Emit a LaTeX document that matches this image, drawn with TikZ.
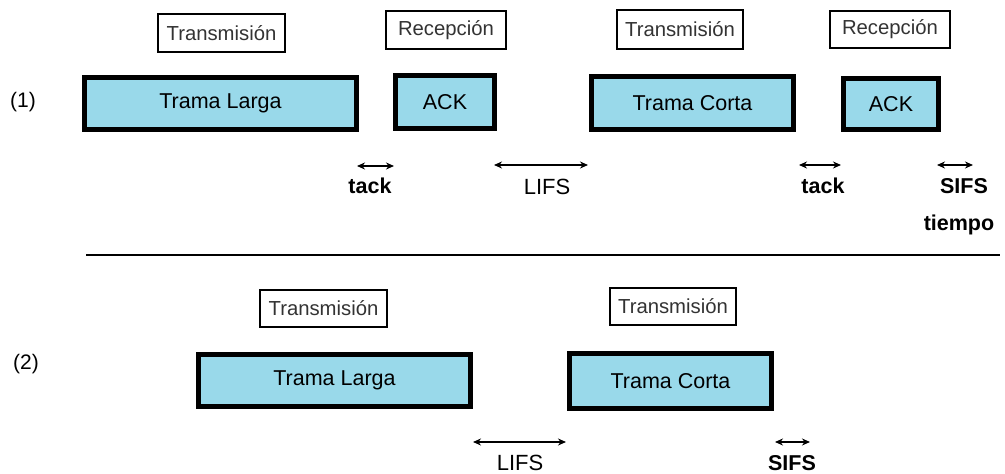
\documentclass[tikz,border=0pt]{standalone}
\usepackage{fontspec}
\setmainfont{Liberation Sans}
\usetikzlibrary{arrows.meta}
\definecolor{frame}{HTML}{99D9EA}
\definecolor{labeltext}{HTML}{333333}
\tikzset{
  framebox/.style={draw=black, line width=5pt, fill=frame, inner sep=0pt,
    font=\fontsize{21.5}{24}\selectfont},
  phasebox/.style={draw=black, line width=2.5pt, fill=white, inner sep=0pt,
    text=labeltext, font=\fontsize{20.3}{22}\selectfont},
  interval/.style={line width=1.4pt, {Stealth[length=8pt,width=7pt]}-{Stealth[length=8pt,width=7pt]}},
  boldlabel/.style={font=\bfseries\fontsize{21.5}{24}\selectfont},
  plainlabel/.style={font=\fontsize{22}{24}\selectfont},
  rowlabel/.style={font=\fontsize{21}{23}\selectfont}
}
\begin{document}
\begin{tikzpicture}[x=1pt,y=-1pt]
\useasboundingbox (0,0) rectangle (1005,474);

% ---- scenario (1): long frame, ACK, short frame, ACK ----
\node[rowlabel] (n1) at (23,102) {(1)};

\node[phasebox, minimum width=127pt, minimum height=38pt] (t1) at (221.5,33) {Transmisión};
\node[phasebox, minimum width=120pt, minimum height=38pt] (r1) at (446,30) {Recepción};
\node[phasebox, minimum width=126pt, minimum height=39pt] (t2) at (680,29.5) {Transmisión};
\node[phasebox, minimum width=120pt, minimum height=37pt] (r2) at (890,29.5) {Recepción};

\node[framebox, minimum width=272pt, minimum height=52pt] (tl1) at (220.5,103.5) {Trama Larga};
\node[framebox, minimum width=99pt, minimum height=53pt] (ack1) at (445,102) {ACK};
\node[framebox, minimum width=202pt, minimum height=53pt] (tc1) at (692.5,103) {Trama Corta};
\node[framebox, minimum width=95pt, minimum height=51pt] (ack2) at (891,104) {ACK};

\draw[interval] ([xshift=-2pt]tl1.east |- 0,166) -- ([xshift=1pt]ack1.west |- 0,166);
\draw[interval] ([xshift=-3pt]ack1.east |- 0,165) -- ([xshift=-1pt]tc1.west |- 0,165);
\draw[interval] ([xshift=3pt]tc1.east |- 0,165) -- ([xshift=0pt]ack2.west |- 0,165);
\coordinate (sifsend1) at (973,165);
\draw[interval] ([xshift=-4pt]ack2.east |- 0,165) -- (sifsend1);

\node[boldlabel] (tk1) at (370,186) {tack};
\node[plainlabel] (lf1) at (547,187) {LIFS};
\node[boldlabel] (tk2) at (823,186) {tack};
\node[boldlabel] (sf1) at (964,186) {SIFS};
\node[boldlabel] (tiempo) at (959,225) {tiempo};

% ---- separator ----
\coordinate (sepL) at (86,255);
\coordinate (sepR) at (1000,255);
\draw[line width=2pt] (sepL) -- (sepR);

% ---- scenario (2): long frame, short frame ----
\node[rowlabel] (n2) at (26,364) {(2)};

\node[phasebox, minimum width=127pt, minimum height=37pt] (t3) at (323.5,308.5) {Transmisión};
\node[phasebox, minimum width=126pt, minimum height=37pt] (t4) at (673,306.5) {Transmisión};

\node[framebox, minimum width=272pt, minimum height=52pt] (tl2) at (334.5,380.5) {Trama Larga};
\node[framebox, minimum width=202pt, minimum height=55pt] (tc2) at (670.5,381) {Trama Corta};

\draw[interval] (tl2.east |- 0,442) -- ([xshift=-1pt]tc2.west |- 0,442);
\coordinate (sifsend2) at (810,442);
\draw[interval] ([xshift=1pt]tc2.east |- 0,442) -- (sifsend2);

\node[plainlabel] (lf2) at (520,463) {LIFS};
\node[boldlabel] (sf2) at (792,463) {SIFS};
\end{tikzpicture}
\end{document}
